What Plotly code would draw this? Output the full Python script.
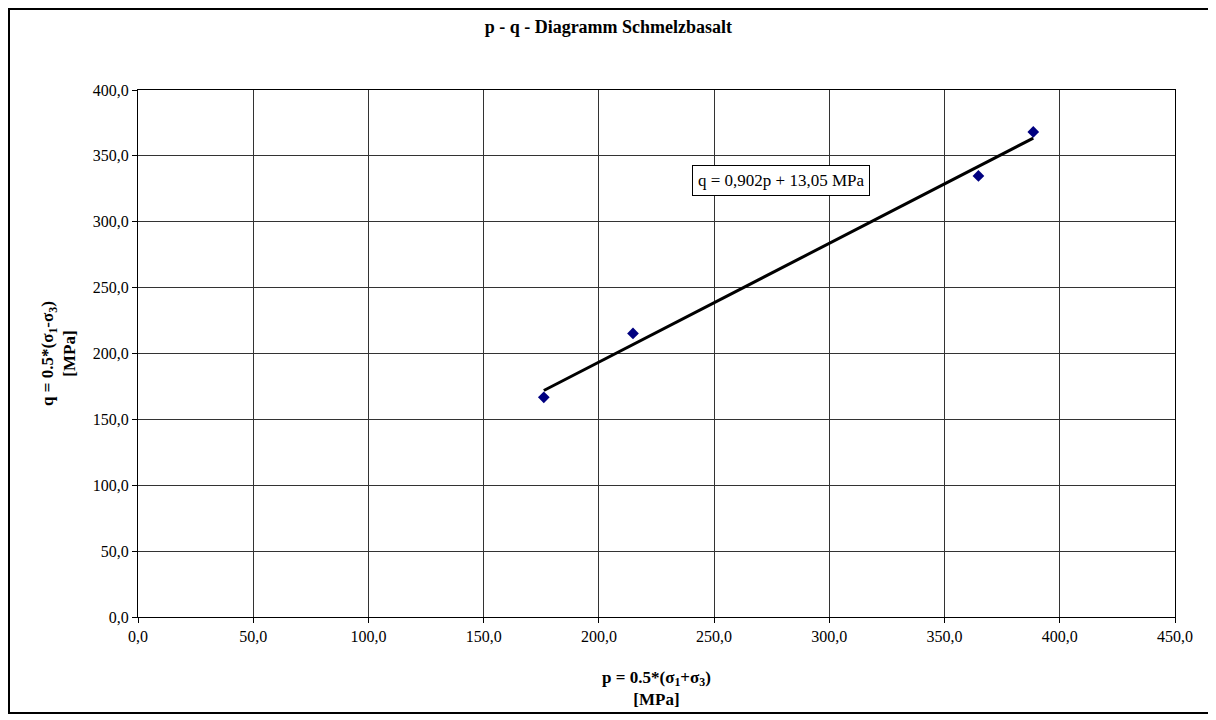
import plotly.graph_objects as go

# measured points (p, q) in MPa
p_vals = [176.1, 214.8, 364.7, 388.5]
q_vals = [166.7, 215.2, 334.8, 368.2]

# linear fit shown on the chart
slope = 0.902
intercept = 13.05
fit_label = "q = 0,902p + 13,05 MPa"

x_ticks = [0, 50, 100, 150, 200, 250, 300, 350, 400, 450]
y_ticks = [0, 50, 100, 150, 200, 250, 300, 350, 400]

fit_x = [min(p_vals), max(p_vals)]
fit_y = [slope * x + intercept for x in fit_x]

fig = go.Figure()
fig.add_trace(
    go.Scatter(
        x=fit_x,
        y=fit_y,
        mode="lines",
        line=dict(color="black", width=3),
        showlegend=False,
    )
)
fig.add_trace(
    go.Scatter(
        x=p_vals,
        y=q_vals,
        mode="markers",
        marker=dict(symbol="diamond", color="#000080", size=9),
        showlegend=False,
    )
)

font = "Liberation Serif, Times New Roman, serif"

# page body adds ~8px margin, so the figure is shifted by 8px
fig.update_layout(
    width=1208,
    height=712,
    margin=dict(l=130, r=41, t=82, b=103),
    paper_bgcolor="white",
    plot_bgcolor="white",
    separators=",.",
    font=dict(family=font, size=16, color="black"),
    title=dict(
        text="<b>p - q - Diagramm Schmelzbasalt</b>",
        x=0.497,
        xanchor="center",
        y=0.974,
        yanchor="middle",
        font=dict(family=font, size=18),
    ),
    xaxis=dict(
        range=[0, 450],
        tickvals=x_ticks,
        tickformat=".1f",
        showgrid=True,
        gridcolor="#333333",
        gridwidth=1,
        showline=True,
        linecolor="black",
        linewidth=1,
        mirror=True,
        ticks="outside",
        ticklen=5,
        tickcolor="black",
        zeroline=False,
        automargin=False,
        title=dict(
            text="<b>p = 0.5*(σ<sub>1</sub>+σ<sub>3</sub>)<br>[MPa]</b>",
            standoff=26,
            font=dict(family=font, size=17),
        ),
    ),
    yaxis=dict(
        range=[0, 400],
        tickvals=y_ticks,
        tickformat=".1f",
        showgrid=True,
        gridcolor="#333333",
        gridwidth=1,
        showline=True,
        linecolor="black",
        linewidth=1,
        mirror=True,
        ticks="outside",
        ticklen=5,
        tickcolor="black",
        zeroline=False,
        automargin=False,
        title=dict(
            text="<b>q = 0.5*(σ<sub>1</sub>-σ<sub>3</sub>)<br>[MPa]</b>",
            standoff=12,
            font=dict(family=font, size=17),
        ),
    ),
    annotations=[
        dict(
            x=279.2,
            y=331.3,
            xref="x",
            yref="y",
            text=fit_label,
            showarrow=False,
            bgcolor="white",
            bordercolor="black",
            borderwidth=1,
            borderpad=5,
            font=dict(family=font, size=17),
        )
    ],
    shapes=[
        dict(
            type="rect",
            xref="paper",
            yref="paper",
            x0=-0.1244,
            x1=1.0338,
            y0=-0.182,
            y1=1.1537,
            line=dict(color="black", width=2),
            fillcolor="rgba(0,0,0,0)",
            layer="below",
        )
    ],
)

fig.write_html("out.html")
